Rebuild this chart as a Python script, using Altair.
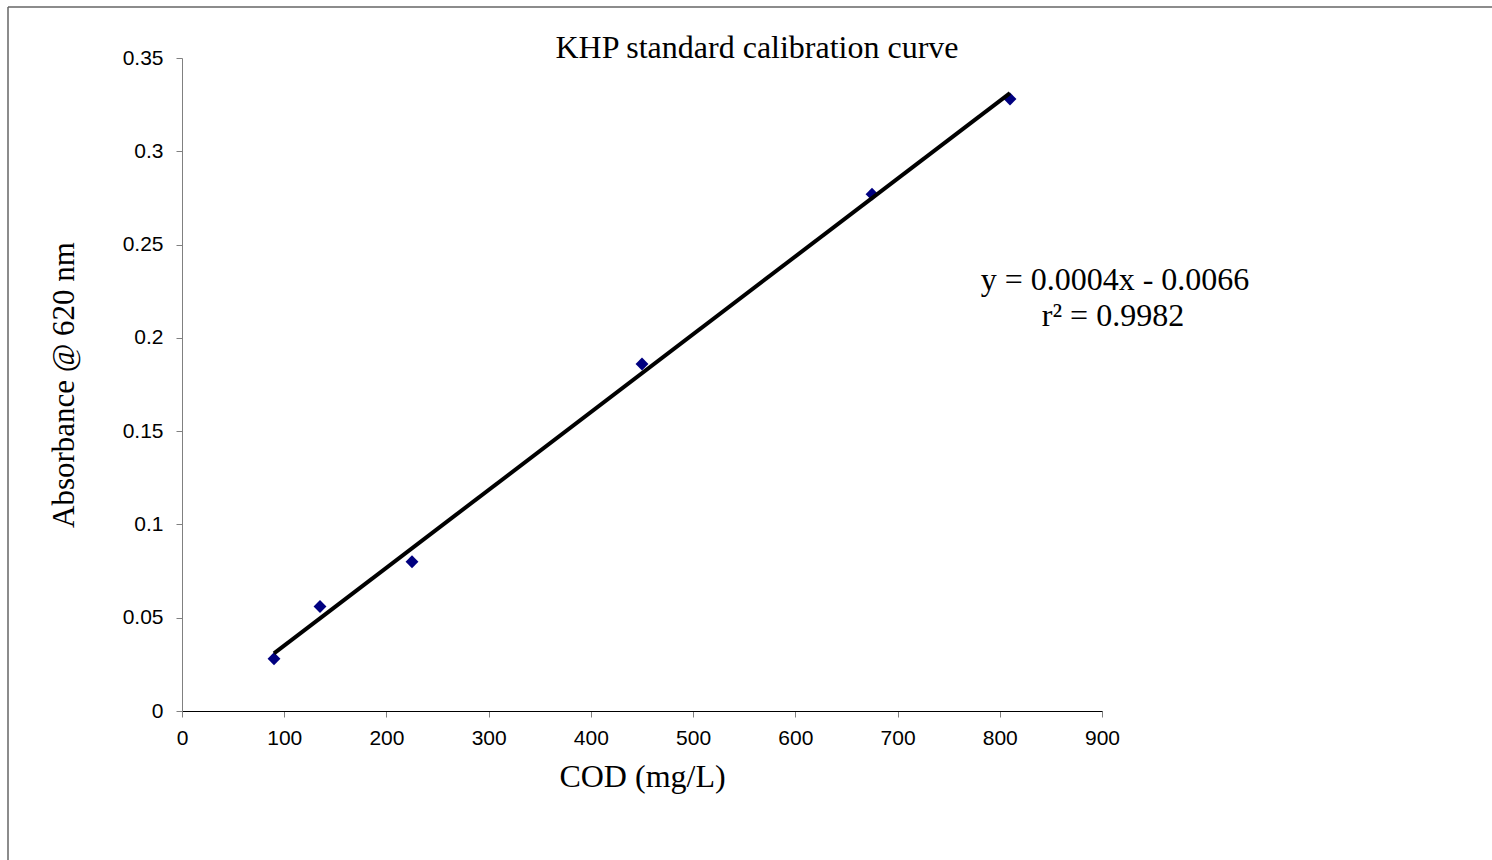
import altair as alt
import pandas as pd

# Data
cod = [90, 135, 225, 450, 675, 810]
absorbance = [0.028, 0.056, 0.080, 0.186, 0.277, 0.328]
x_ticks = [0, 100, 200, 300, 400, 500, 600, 700, 800, 900]
y_ticks = [0, 0.05, 0.1, 0.15, 0.2, 0.25, 0.3, 0.35]
chart_title = "KHP standard calibration curve"
eq_lines = ["y = 0.0004x - 0.0066", "r\u00b2 = 0.9982"]

df = pd.DataFrame({"cod": cod, "abs": absorbance})

W, H = 920, 653
PAD_L, PAD_T = 182, 58
SERIF = "Liberation Serif"
SANS = "Liberation Sans"

xs = alt.Scale(domain=[0, 900], nice=False, zero=False)
ys = alt.Scale(domain=[0, 0.35], nice=False, zero=False)

x_axis = alt.Axis(
    values=x_ticks, title="COD (mg/L)", grid=False,
    labelFont=SANS, labelFontSize=21, labelColor="#000000", labelPadding=10,
    tickColor="#808080", tickSize=6, domainColor="#000000", domainWidth=1,
    titleFont=SERIF, titleFontSize=32, titleFontWeight="normal",
    titleColor="#000000", titlePadding=13, labelFlush=False,
)
y_axis = alt.Axis(
    values=y_ticks, title="Absorbance @ 620 nm", grid=False, format=".2~f",
    labelFont=SANS, labelFontSize=21, labelColor="#000000", labelPadding=13,
    tickColor="#808080", tickSize=6, domainColor="#808080", domainWidth=1,
    titleFont=SERIF, titleFontSize=31, titleFontWeight="normal",
    titleColor="#000000", titlePadding=42, labelFlush=False,
)

base = alt.Chart(df)

points = base.mark_point(
    shape="diamond", filled=True, size=165, color="#000080", opacity=1
).encode(
    x=alt.X("cod:Q", scale=xs, axis=x_axis),
    y=alt.Y("abs:Q", scale=ys, axis=y_axis),
)

trend = base.transform_regression(
    "cod", "abs", extent=[90, 810]
).mark_line(color="#000000", strokeWidth=4).encode(
    x=alt.X("cod:Q", scale=xs),
    y=alt.Y("abs:Q", scale=ys),
)

one = alt.Data(values=[{"a": 1}])

title_mark = alt.Chart(one).mark_text(
    text=chart_title, font=SERIF, fontSize=32, align="center",
    baseline="alphabetic", color="#000000"
).encode(x=alt.value(757 - PAD_L), y=alt.value(58 - PAD_T))

eq1 = alt.Chart(one).mark_text(
    text=eq_lines[0], font=SERIF, fontSize=32, align="center",
    baseline="alphabetic", color="#000000"
).encode(x=alt.value(1115 - PAD_L), y=alt.value(290 - PAD_T))

eq2 = alt.Chart(one).mark_text(
    text=eq_lines[1], font=SERIF, fontSize=32, align="center",
    baseline="alphabetic", color="#000000"
).encode(x=alt.value(1113 - PAD_L), y=alt.value(326 - PAD_T))

frame_left = alt.Chart(one).mark_rule(color="#666666", strokeWidth=1.5).encode(
    x=alt.value(8 - PAD_L), y=alt.value(7 - PAD_T), y2=alt.value(900 - PAD_T)
)
frame_top = alt.Chart(one).mark_rule(color="#666666", strokeWidth=1.5).encode(
    x=alt.value(8 - PAD_L), x2=alt.value(1600 - PAD_L), y=alt.value(7 - PAD_T)
)

chart = alt.layer(
    frame_left, frame_top, points, trend, title_mark, eq1, eq2
).properties(
    width=W, height=H,
    autosize=alt.AutoSizeParams(type="none"),
    padding={"left": PAD_L, "top": PAD_T, "right": 1492 - PAD_L - W, "bottom": 860 - PAD_T - H},
    background="#ffffff",
).configure_view(stroke=None)

chart.save("out.html", embed_options={"renderer": "svg", "actions": False})
